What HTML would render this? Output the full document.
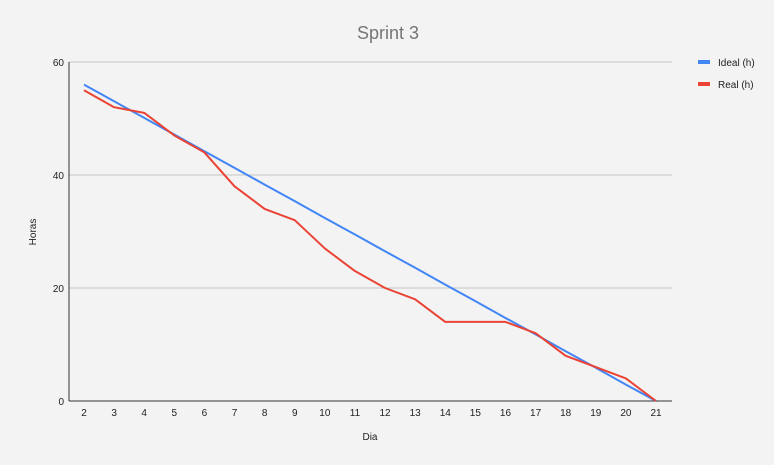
<!DOCTYPE html>
<html><head><meta charset="utf-8"><style>
html,body{margin:0;padding:0;background:#f3f3f3;}
svg{display:block;font-family:"Liberation Sans",Arial,sans-serif;}
</style></head><body>
<svg id="chart" width="774" height="465" viewBox="0 0 774 465">
<rect width="774" height="465" fill="#f3f3f3"/>
<text x="388" y="39" text-anchor="middle" font-size="18" fill="#757575">Sprint 3</text>
<text x="36" y="232" text-anchor="middle" font-size="10" fill="#222" transform="rotate(-90 36 232)">Horas</text>
<text x="370" y="440" text-anchor="middle" font-size="10" fill="#222">Dia</text>
<g>
<g><rect x="698" y="60" width="12" height="4" fill="#4285f4"/><text x="718" y="66" font-size="10" fill="#222">Ideal (h)</text></g>
<g><rect x="698" y="82" width="12" height="4" fill="#ea4335"/><text x="718" y="88" font-size="10" fill="#222">Real (h)</text></g>
</g>
<g id="grid"></g><g id="xt"></g><g id="series"></g>
</svg>
<script>
const days = [2,3,4,5,6,7,8,9,10,11,12,13,14,15,16,17,18,19,20,21];
const idealHours = [56,53.05,50.1,47.16,44.2,41.26,38.3,35.37,32.4,29.47,26.5,23.58,20.6,17.68,14.7,11.79,8.8,5.89,2.9,0];
const realHours = [55,52,51,47,44,38,34,32,27,23,20,18,14,14,14,12,8,6,4,0];
const yTicks = [0,20,40,60];
const NS="http://www.w3.org/2000/svg";
const x0=69,x1=672,yTop=62,yBot=401;
function xs(d){return 84+(d-days[0])*(656-84)/(days[days.length-1]-days[0]);}
function ys(v){return yBot-v*(yBot-yTop)/60;}
function mk(t,a,p){const e=document.createElementNS(NS,t);for(const k in a)e.setAttribute(k,a[k]);p.appendChild(e);return e;}
const grid=document.getElementById('grid');
yTicks.forEach(v=>{
  const l=mk('line',{x1:x0,x2:x1,y1:ys(v),y2:ys(v),stroke:v===0?'#333':'#c4c4c4','stroke-width':1},grid);
  
  
  const t=mk('text',{x:x0-5,y:ys(v)+4,'text-anchor':'end','font-size':10,fill:'#222'},grid);
  t.textContent=v;
  
  
});
const ax=mk('line',{x1:x0,x2:x0,y1:yTop,y2:yBot,stroke:'#333','stroke-width':1},grid);


const xt=document.getElementById('xt');
days.forEach(d=>{
  const t=mk('text',{x:xs(d),y:416,'text-anchor':'middle','font-size':10,fill:'#222'},xt);
  t.textContent=d;
  
  
});
const s=document.getElementById('series');
function line(vals,color,name){
  const p=mk('polyline',{points:vals.map((v,i)=>xs(days[i])+','+ys(v)).join(' '),fill:'none',stroke:color,'stroke-width':2,'stroke-linejoin':'round'},s);
  
  
}
line(idealHours,'#4285f4','ideal-line');
line(realHours,'#ea4335','real-line');
</script>
</body></html>
